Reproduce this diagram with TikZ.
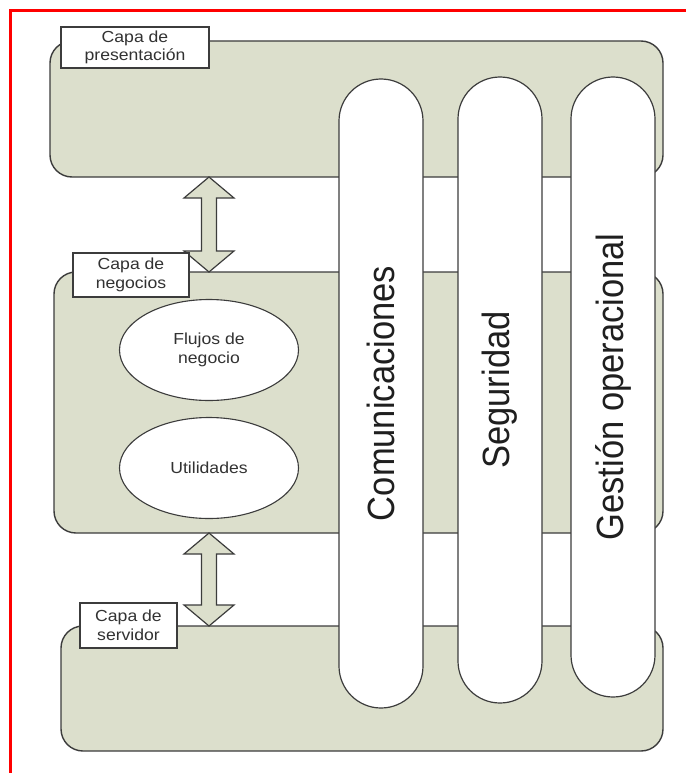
\documentclass[tikz,border=0pt]{standalone}
\usepackage{fontspec}
\usepackage{graphicx}
\setmainfont{Liberation Sans}[FakeStretch=1.1]
\newfontfamily\pillarfont{Liberation Sans}
\usetikzlibrary{shapes.geometric,calc}
\definecolor{layerfill}{RGB}{220,223,204}
\definecolor{edge}{RGB}{60,60,60}
\definecolor{labeltext}{RGB}{50,50,50}

% double-headed block arrow between two points on one vertical line
\newcommand{\layerlink}[2]{%
  \filldraw[blockarrow] let \p1=(#1), \p2=(#2) in
    (\x1,\y1) -- (\x1+25pt,\y1-21pt) -- (\x1+7.5pt,\y1-21pt)
    -- (\x1+7.5pt,\y2+21pt) -- (\x1+25pt,\y2+21pt) -- (\x1,\y2)
    -- (\x1-25pt,\y2+21pt) -- (\x1-7.5pt,\y2+21pt)
    -- (\x1-7.5pt,\y1-21pt) -- (\x1-25pt,\y1-21pt) -- cycle;}

\begin{document}
\begin{tikzpicture}[x=1pt,y=-1pt,
  layer/.style={draw=edge, fill=layerfill, line width=1.4pt, rounded corners=22pt,
    inner sep=0pt, outer sep=0pt},
  pillar/.style={draw=edge, fill=white, line width=1.2pt, rounded corners=42pt,
    inner sep=0pt, outer sep=0pt, rotate=90, minimum height=84pt,
    font=\pillarfont\fontsize{34.5}{40}\selectfont, text=black!88},
  tag/.style={draw=edge, fill=white, line width=1.2pt, inner sep=0pt, outer sep=0pt,
    align=center, font=\fontsize{16}{18.5}\selectfont, text=labeltext},
  blob/.style={ellipse, draw=edge, fill=white, line width=1.1pt, minimum width=179pt,
    minimum height=101pt, inner sep=0pt, align=center,
    font=\fontsize{16}{18.5}\selectfont, text=labeltext},
  blockarrow/.style={draw=edge, fill=layerfill, line width=1.2pt, line join=miter}]

\fill[white] (0,0) rectangle (686,773);
\useasboundingbox (0,0) rectangle (686,773);

% frame
\draw[red, line width=2.5pt] (10.5,773) -- (10.5,10.5) -- (686,10.5);

% layers
\node[layer, minimum width=613pt, minimum height=136pt] (pres) at (356.5,109) {};
\node[layer, minimum width=609pt, minimum height=261pt] (biz) at (358.5,402.5) {};
\node[layer, minimum width=602pt, minimum height=125pt] (serv) at (362,688.5) {};

% business components
\node[blob] (flow) at (209,350) {Flujos de\\negocio};
\node[blob] (util) at (209,468) {Utilidades};

% links between layers
\layerlink{pres.south -| flow}{biz.north -| flow}
\layerlink{biz.south -| util}{serv.north -| util}

% cross-cutting pillars
\node[pillar, minimum width=629pt] (com) at (381,393.5) {\scalebox{1}[1.1]{Comunicaciones}};
\node[pillar, minimum width=626pt] (seg) at (500,390) {\scalebox{1}[1.1]{Seguridad}};
\node[pillar, minimum width=620pt] (gest) at (613,387) {\scalebox{1}[1.1]{Gestión operacional}};

% layer labels
\node[tag, minimum width=148pt, minimum height=41pt] (presl) at (135,47.5) {Capa de\\presentación};
\node[tag, minimum width=116pt, minimum height=44pt] (bizl) at (131,275) {Capa de\\negocios};
\node[tag, minimum width=97pt, minimum height=45pt] (servl) at (128.5,625.5) {Capa de\\servidor};

\end{tikzpicture}
\end{document}
